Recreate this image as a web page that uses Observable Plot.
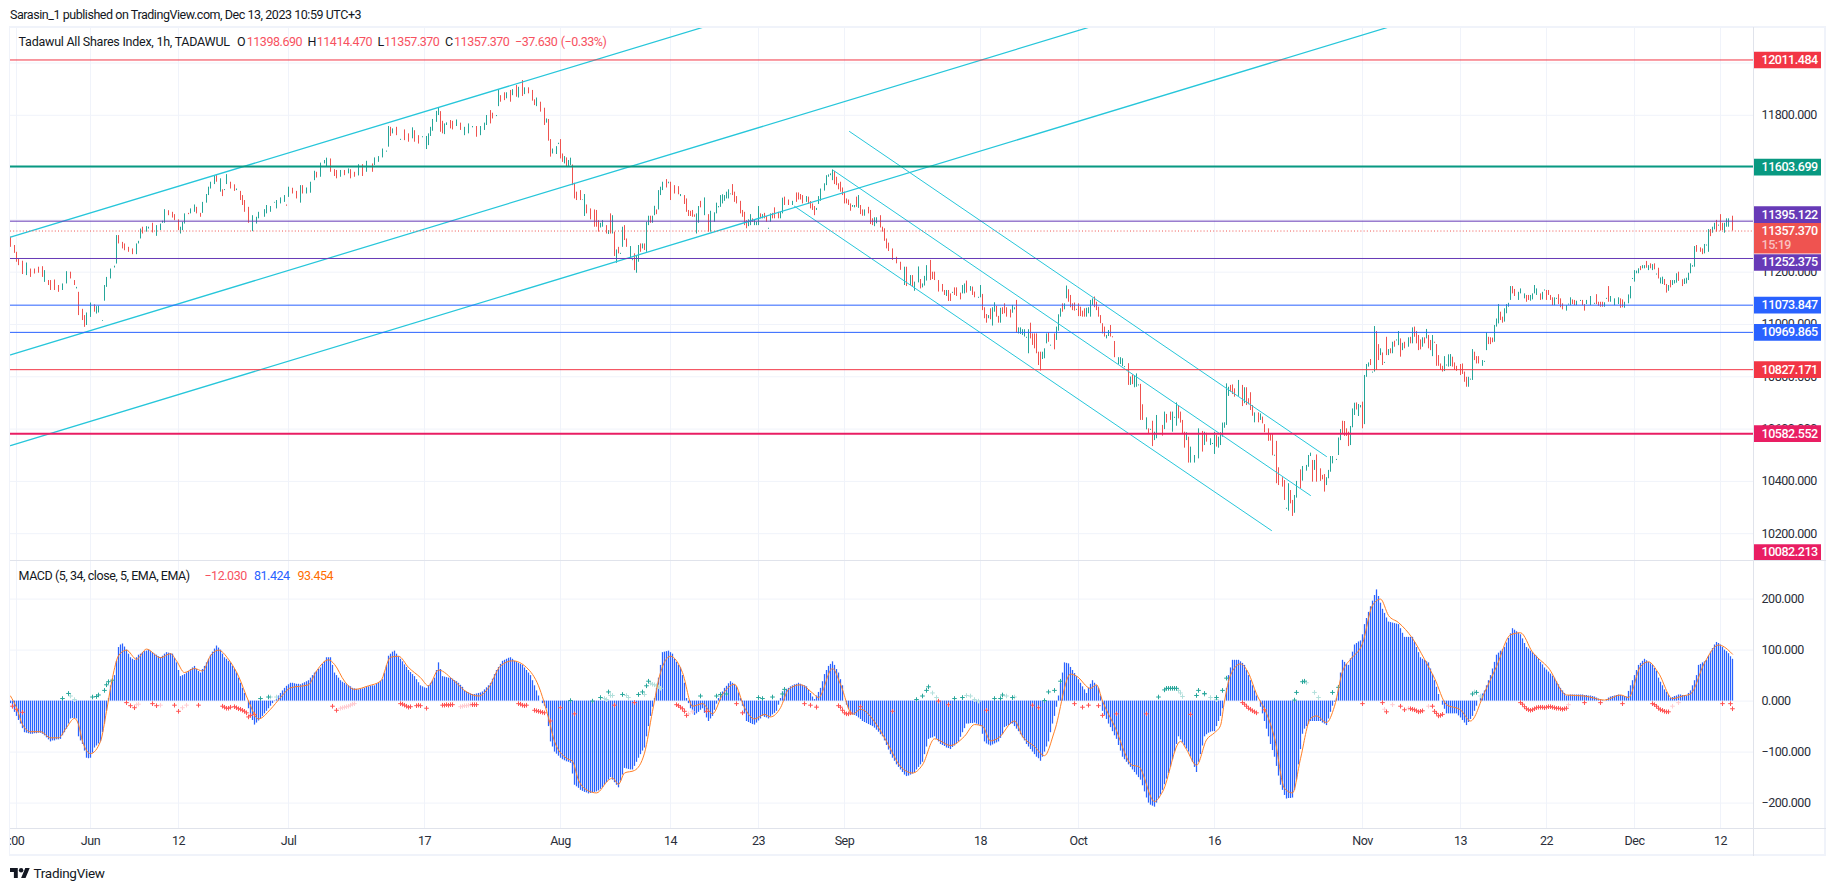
<!DOCTYPE html>
<html><head><meta charset="utf-8">
<script src="https://cdn.jsdelivr.net/npm/d3@7"></script>
<script src="https://cdn.jsdelivr.net/npm/@observablehq/plot@0.6"></script>
<style>
html,body{margin:0;padding:0;background:#fff;}
#page{position:relative;width:1835px;height:891px;overflow:hidden;font-family:Roboto,sans-serif;font-size:12.5px;letter-spacing:-0.45px;color:#131722;}
#page>div,#page>span,#page>svg{position:absolute;}
.t{white-space:nowrap;line-height:14px;}
</style></head><body>
<div id="page"></div>
<script>
// [bar, low, high, up]
const candlesA=[[0,11295,11334,0],[2,11272,11302,0],[3,11238,11276,0],[4,11225,11251,0],[6,11191,11242,0],[8,11187,11235,1],[10,11180,11212,0],[12,11193,11212,0],[14,11196,11219,0],[16,11180,11221,0],[17,11161,11206,1],[19,11149,11168,0],[20,11130,11168,0],[22,11130,11170,0],[24,11123,11149,0],[26,11130,11155,1],[28,11155,11202,1],[30,11174,11200,0],[32,11149,11168,0],[33,11136,11142,1],[34,11034,11123,0],[36,11015,11058,0],[37,10989,11034,0],[38,10996,11044,1],[40,11027,11082,1],[42,11047,11075,0],[43,11040,11068,1],[44,11044,11070,1],[46,11012,11015,1],[47,11089,11149,1],[48,11142,11180,1],[50,11174,11212,1],[52,11216,11223,1],[53,11231,11340,1],[54,11308,11340,0],[56,11289,11314,0],[57,11282,11308,0],[59,11276,11295,0],[61,11267,11289,0],[63,11267,11308,1],[64,11308,11318,1],[65,11327,11365,1],[66,11346,11372,0],[68,11353,11374,1],[69,11365,11372,1],[71,11350,11387,0],[73,11337,11378,1],[75,11359,11384,1],[76,11387,11395,1],[77,11387,11439,1],[79,11416,11435,0],[81,11407,11429,0],[82,11397,11420,0],[84,11359,11400,0],[85,11346,11372,1],[86,11359,11391,1],[87,11384,11423,1],[89,11420,11425,0],[90,11423,11442,1],[92,11429,11457,1],[93,11423,11448,0],[95,11410,11425,0],[96,11425,11467,1],[98,11464,11497,1],[99,11493,11525,1],[100,11518,11544,1],[102,11535,11567,1],[103,11544,11569,0],[105,11506,11557,1],[106,11489,11515,0],[107,11512,11516,1],[108,11535,11573,1],[110,11518,11544,0],[112,11509,11534,0],[113,11512,11518,1],[115,11474,11509,0],[116,11455,11493,0],[117,11429,11474,0],[119,11387,11448,0],[121,11355,11416,1],[123,11384,11410,1],[124,11404,11429,1],[127,11410,11439,1],[128,11423,11455,1],[130,11429,11451,1],[132,11464,11467,1],[133,11442,11474,1],[135,11461,11484,1],[137,11467,11493,1],[138,11452,11457,0],[139,11486,11525,1],[141,11499,11521,0],[143,11480,11509,0],[145,11464,11531,1],[146,11499,11531,0],[148,11499,11522,1],[150,11502,11544,1],[152,11550,11586,1],[153,11560,11582,0],[155,11563,11617,1],[157,11614,11627,1],[158,11601,11636,1],[160,11582,11633,0],[162,11566,11592,0],[163,11557,11589,0],[165,11563,11589,1],[167,11569,11589,0],[169,11576,11595,1],[170,11557,11592,0],[172,11563,11582,0],[174,11568,11611,1],[176,11566,11611,0],[178,11582,11624,1],[181,11582,11614,0],[182,11608,11637,1],[184,11620,11642,1],[186,11637,11671,1],[188,11659,11663,1],[189,11678,11757,1],[190,11719,11754,0],[191,11729,11748,1],[193,11722,11754,0],[195,11704,11708,1],[197,11703,11744,0],[199,11697,11729,0],[201,11710,11752,1],[202,11697,11741,0],[204,11690,11722,0],[206,11714,11718,1],[208,11669,11719,1],[209,11684,11729,1],[210,11719,11754,1],[211,11739,11784,1],[213,11773,11815,1],[214,11799,11828,1],[215,11735,11814,0],[216,11729,11777,0],[217,11726,11767,1]];
const candlesB=[[218,11761,11771,1],[220,11748,11780,0],[221,11744,11777,0],[223,11757,11782,1],[225,11742,11770,0],[227,11722,11754,1],[229,11729,11767,1],[231,11752,11757,1],[233,11716,11757,0],[235,11722,11757,1],[237,11742,11770,1],[238,11761,11799,1],[240,11767,11818,0],[241,11786,11808,0],[243,11795,11799,1],[244,11833,11897,1],[245,11850,11875,0],[247,11856,11886,0],[248,11863,11886,1],[250,11850,11895,0],[251,11875,11898,1],[253,11869,11914,0],[254,11866,11907,1],[256,11872,11933,0],[257,11879,11905,1],[259,11882,11905,0],[261,11854,11895,0],[262,11837,11859,0],[263,11833,11866,1],[265,11812,11850,0],[267,11761,11827,0],[268,11770,11786,1],[269,11701,11784,0],[270,11640,11707,0],[271,11652,11671,1],[273,11650,11680,1],[274,11688,11693,1],[275,11633,11707,0],[276,11620,11652,0],[277,11614,11642,1],[278,11601,11637,0],[279,11604,11627,1],[280,11608,11636,1],[281,11531,11610,0],[282,11480,11540,0],[283,11474,11506,0],[285,11474,11512,0],[286,11474,11476,1],[287,11413,11497,1],[288,11423,11457,0],[290,11400,11442,0],[292,11372,11438,0],[293,11372,11436,0],[294,11353,11397,0],[295,11369,11387,1],[296,11372,11397,1],[298,11346,11378,0],[299,11344,11359,1],[300,11346,11423,0],[301,11346,11416,1],[302,11260,11353,0],[303,11234,11285,1],[304,11270,11295,0],[305,11268,11272,1],[306,11295,11372,1],[307,11321,11378,0],[308,11295,11327,0],[310,11251,11298,1],[311,11244,11248,1],[312,11206,11270,0],[313,11196,11263,1],[314,11238,11302,1],[315,11276,11308,0],[316,11289,11308,1],[317,11283,11308,0],[318,11276,11391,1],[319,11378,11414,1],[320,11387,11414,0],[321,11387,11414,1],[322,11416,11452,1],[323,11420,11438,0],[324,11438,11512,1],[325,11493,11525,1],[326,11512,11544,1],[328,11522,11554,0],[329,11538,11544,1],[330,11474,11544,0],[332,11499,11531,0],[334,11496,11527,0],[335,11489,11497,1],[337,11459,11493,0],[338,11429,11480,0],[339,11413,11436,0],[340,11413,11433,0],[341,11410,11436,0],[342,11410,11419,0],[343,11346,11423,1],[344,11387,11451,1],[345,11446,11471,0],[347,11416,11484,1],[349,11353,11420,0],[350,11353,11433,1],[352,11391,11427,1],[353,11423,11464,1],[354,11446,11451,1],[355,11448,11493,1],[356,11461,11496,1],[357,11471,11493,1],[358,11480,11506,1],[359,11480,11515,1],[360,11496,11499,1],[361,11493,11535,0],[362,11467,11506,0],[363,11461,11489,0],[365,11423,11471,0],[366,11410,11436,0],[367,11378,11429,0],[368,11366,11397,0],[369,11374,11400,1],[370,11378,11420,1],[371,11391,11404,0],[372,11378,11400,1],[373,11378,11391,1],[374,11378,11451,1],[375,11404,11423,0],[376,11404,11420,1],[377,11404,11425,0],[378,11391,11413,0],[379,11364,11368,1],[380,11391,11423,1],[381,11404,11425,0],[382,11404,11446,0],[384,11404,11429,0],[385,11404,11429,1],[386,11423,11483,1],[387,11455,11487,0],[389,11455,11476,0],[391,11455,11471,1],[393,11467,11503,0],[394,11476,11503,0],[395,11476,11497,0],[396,11461,11493,0],[398,11467,11489,1],[399,11459,11487,0],[400,11442,11470,0],[401,11436,11461,0],[402,11416,11451,0],[403,11436,11444,1],[404,11459,11489,1],[405,11471,11518,1],[407,11510,11538,1],[408,11531,11569,1],[409,11563,11572,1],[410,11569,11576,1],[411,11550,11591,1],[412,11535,11585,0],[413,11531,11563,0],[414,11515,11538,0],[415,11506,11544,0],[416,11493,11522,0],[417,11461,11506,0],[418,11461,11480,0],[419,11455,11476,0],[420,11433,11461,0],[421,11448,11455,1],[422,11446,11455,1],[423,11448,11487,0],[424,11444,11493,1],[425,11420,11455,0],[426,11414,11438,0],[427,11414,11438,1],[429,11423,11448,0],[430,11382,11436,0],[431,11378,11404,0],[432,11374,11408,1],[433,11385,11408,1],[435,11369,11416,0],[436,11353,11372,0],[437,11318,11366,0],[438,11289,11327,0],[439,11279,11311,0]];
const candlesC=[[441,11245,11289,0],[443,11232,11257,0],[445,11207,11238,0],[447,11149,11219,1],[448,11145,11219,0],[450,11149,11187,1],[451,11143,11187,0],[452,11127,11162,1],[454,11159,11220,1],[455,11136,11172,0],[456,11140,11155,1],[457,11147,11184,1],[458,11166,11225,1],[460,11168,11245,0],[461,11172,11200,0],[462,11168,11200,0],[464,11124,11168,0],[466,11124,11153,0],[467,11111,11130,0],[468,11107,11130,1],[469,11088,11130,0],[470,11088,11117,0],[471,11119,11123,1],[472,11111,11140,0],[473,11107,11140,0],[475,11094,11120,0],[476,11117,11149,1],[477,11117,11155,1],[478,11120,11166,0],[480,11127,11145,1],[481,11111,11143,0],[482,11102,11124,0],[484,11100,11104,1],[485,11102,11149,1],[486,11053,11115,0],[487,11022,11064,0],[488,11005,11038,0],[489,11022,11034,1],[490,11018,11060,0],[491,10994,11064,1],[492,11047,11083,1],[493,11028,11069,0],[494,11005,11031,0],[495,11005,11062,1],[496,11038,11064,0],[497,11041,11079,0],[498,11028,11064,0],[500,11025,11056,0],[501,11043,11073,1],[502,11056,11064,1],[503,10967,11092,0],[504,10964,10987,1],[505,10962,10987,1],[506,10958,10980,1],[507,10952,10980,1],[508,10947,10951,1],[509,10888,10980,1],[510,10945,11005,0],[511,10920,10964,0],[512,10907,10964,0],[513,10888,10964,0],[514,10843,10894,0],[515,10822,10894,0],[516,10866,10894,1],[517,10869,10907,1],[518,10926,10964,1],[519,10932,10968,0],[520,10917,10921,1],[522,10903,10964,0],[523,10939,10990,1],[524,10974,11037,1],[525,11028,11060,1],[526,11047,11079,0],[527,11056,11079,1],[528,11098,11147,1],[529,11085,11133,0],[530,11064,11111,0],[531,11053,11079,0],[532,11051,11082,0],[533,11054,11058,1],[534,11030,11079,0],[535,11030,11066,0],[536,11028,11051,0],[537,11028,11060,0],[538,11028,11062,1],[539,11041,11064,1],[540,11028,11092,1],[541,11073,11098,1],[542,11064,11105,0],[543,11053,11085,0],[544,11028,11066,0],[545,11003,11034,0],[546,10964,11003,0],[547,10952,10990,0],[548,10945,10958,1],[549,10954,10977,1],[550,10952,10996,0],[551,10949,10953,0],[552,10873,10935,0],[554,10847,10873,1],[555,10847,10873,1],[556,10839,10869,1],[557,10835,10839,1],[559,10767,10850,0],[560,10767,10799,1],[561,10770,10807,0],[562,10758,10801,1],[563,10760,10811,1],[564,10765,10769,1],[565,10633,10771,0],[566,10633,10693,0],[568,10597,10643,1],[569,10582,10601,0],[570,10595,10599,1],[571,10533,10630,0],[572,10556,10588,1],[573,10563,10652,1],[576,10573,10614,0],[577,10598,10665,1],[578,10623,10656,0],[580,10633,10665,0],[581,10588,10665,1],[582,10641,10645,1],[583,10611,10700,1],[584,10639,10690,0],[585,10623,10665,0],[586,10582,10633,0],[587,10527,10588,0],[588,10556,10586,1],[589,10470,10569,0],[590,10470,10531,1],[592,10470,10499,1],[594,10486,10601,1],[596,10512,10591,0],[597,10537,10588,1],[598,10550,10584,0],[600,10537,10563,1],[601,10541,10545,1],[602,10503,10588,1],[603,10531,10575,0],[604,10527,10569,1],[605,10537,10586,1],[606,10569,10623,1],[607,10603,10624,1],[608,10614,10773,1],[609,10725,10760,1],[610,10741,10767,0],[611,10732,10769,0],[612,10722,10754,0],[614,10725,10786,1],[616,10686,10767,0],[617,10697,10758,1],[618,10690,10758,0],[619,10693,10716,0],[620,10671,10739,0],[621,10649,10690,0],[622,10624,10662,1],[624,10624,10662,0],[625,10633,10658,1],[626,10620,10646,0],[627,10586,10617,0],[629,10553,10601,0],[630,10554,10582,0],[631,10498,10582,0],[632,10496,10500,1],[633,10391,10553,0],[634,10384,10452,0],[636,10378,10414,0],[637,10327,10403,0],[638,10293,10297,1],[639,10286,10391,1],[640,10314,10365,0],[641,10266,10327,0],[642,10278,10346,1],[643,10336,10400,1],[645,10371,10444,0],[646,10401,10457,1],[648,10439,10461,1],[649,10454,10499,1],[650,10495,10508,1],[651,10397,10480,0],[652,10442,10480,1],[653,10397,10501,0],[655,10400,10448,0],[656,10406,10423,0],[657,10359,10426,0],[658,10384,10414,1],[659,10410,10442,1]];
const candlesD=[[660,10435,10495,1],[661,10467,10495,1],[663,10480,10484,1],[664,10499,10566,1],[665,10556,10598,1],[666,10582,10630,0],[667,10572,10629,0],[668,10572,10601,0],[669,10533,10588,0],[670,10537,10610,1],[671,10605,10677,1],[672,10652,10699,1],[673,10673,10700,0],[674,10648,10694,1],[675,10681,10690,1],[676,10601,10703,0],[677,10617,10805,1],[678,10798,10847,1],[679,10837,10853,1],[680,10843,10866,0],[681,10814,10818,1],[682,10818,10992,1],[683,10824,10973,0],[684,10862,10923,0],[685,10881,10907,1],[686,10843,10891,0],[687,10851,10855,1],[688,10881,10951,0],[689,10881,10904,1],[690,10888,10907,0],[691,10888,10932,1],[692,10913,10936,0],[693,10937,10941,1],[694,10919,10973,1],[695,10875,10945,0],[696,10900,10928,1],[697,10907,10932,0],[699,10913,10949,1],[700,10926,10951,0],[701,10926,10987,1],[702,10951,10990,0],[703,10926,10973,0],[704,10900,10958,0],[705,10903,10941,0],[706,10913,10949,1],[707,10926,10949,0],[708,10945,10981,1],[709,10907,10958,0],[710,10900,10939,0],[711,10877,10958,1],[712,10928,10932,0],[713,10840,10923,0],[714,10840,10881,0],[715,10824,10849,0],[716,10818,10840,0],[717,10820,10877,1],[718,10841,10845,1],[719,10837,10884,1],[720,10839,10885,1],[721,10837,10875,0],[722,10824,10853,0],[723,10821,10840,0],[725,10805,10847,0],[726,10809,10849,0],[727,10779,10818,0],[728,10760,10798,0],[729,10760,10798,1],[730,10787,10791,1],[731,10786,10904,1],[732,10862,10894,0],[733,10849,10877,0],[734,10849,10877,0],[736,10840,10862,1],[737,10855,10859,1],[738,10900,10968,1],[739,10923,10951,0],[740,10923,10949,0],[741,10930,10948,0],[742,10932,10996,1],[743,10990,11021,1],[744,11002,11076,1],[745,11015,11047,0],[746,11005,11028,0],[747,11009,11060,1],[748,11041,11076,1],[749,11066,11081,1],[750,11092,11145,1],[751,11117,11145,0],[752,11107,11134,0],[754,11092,11123,1],[755,11117,11136,1],[757,11098,11117,1],[758,11085,11111,0],[759,11092,11111,0],[760,11089,11111,1],[761,11094,11117,1],[762,11117,11149,1],[763,11111,11136,1],[765,11092,11117,0],[766,11094,11123,1],[767,11128,11132,1],[768,11092,11130,0],[769,11111,11130,0],[770,11092,11111,0],[771,11072,11102,0],[772,11072,11102,1],[773,11096,11100,1],[774,11076,11114,0],[775,11064,11098,0],[776,11056,11079,0],[778,11051,11072,1],[779,11074,11078,1],[780,11072,11102,1],[781,11076,11094,0],[782,11072,11092,0],[783,11072,11089,1],[785,11088,11092,1],[786,11072,11092,0],[787,11051,11076,0],[788,11076,11092,1],[790,11072,11107,1],[792,11077,11081,1],[793,11076,11114,0],[794,11069,11085,0],[795,11066,11085,0],[796,11066,11085,0],[797,11066,11083,1],[798,11096,11100,1],[799,11085,11145,0],[800,11085,11107,1],[802,11072,11098,1],[804,11076,11102,1],[805,11062,11098,0],[806,11064,11094,0],[807,11062,11085,1],[809,11079,11113,1],[810,11098,11145,1],[811,11172,11176,1],[812,11162,11206,1],[813,11194,11204,1],[814,11194,11213,1],[815,11206,11222,0],[816,11213,11225,1],[817,11213,11225,1],[818,11215,11241,0],[819,11206,11225,1],[820,11213,11232,0],[821,11206,11229,1],[822,11209,11232,0],[823,11189,11193,1],[824,11174,11215,0],[825,11155,11178,1],[826,11153,11181,1],[827,11149,11172,0],[828,11120,11153,0],[829,11127,11149,1],[830,11140,11168,0],[831,11149,11168,1],[832,11155,11168,1],[833,11158,11194,1],[834,11165,11200,0],[836,11145,11171,0],[837,11153,11174,1],[838,11155,11177,1],[839,11168,11196,1],[840,11194,11232,1],[841,11219,11225,1],[842,11219,11298,1],[843,11276,11302,0],[845,11276,11293,0],[846,11267,11289,0],[847,11270,11306,1],[848,11300,11304,1],[849,11276,11363,1],[850,11336,11363,0],[851,11349,11372,1],[852,11362,11387,1],[853,11353,11398,0],[854,11376,11380,1],[855,11357,11420,0],[856,11359,11387,0],[857,11349,11387,1],[858,11372,11404,1],[859,11372,11404,1],[861,11357,11414,0]];

// MACD histogram, one value per bar
const macdHist=[-5,-15,-22,-30,-38,-45,-54,-62,-63,-64,
-65,-65,-64,-64,-63,-63,-65,-68,-72,-76,
-80,-78,-78,-76,-76,-75,-68,-62,-55,-45,
-35,-34,-35,-35,-70,-78,-85,-98,-112,-113,
-112,-102,-92,-88,-84,-80,-62,-45,-20,5,
30,40,50,78,105,110,112,106,100,92,
85,82,80,85,90,92,95,97,98,100,
97,95,92,90,87,85,88,92,95,94,
93,92,84,75,60,48,50,52,55,58,
62,65,68,62,58,55,62,68,75,82,
90,96,102,108,104,100,92,85,82,78,
75,68,62,55,45,35,25,15,0,-15,
-30,-38,-47,-43,-39,-35,-30,-25,-20,-15,
-10,-5,-1,3,10,15,20,25,29,32,
35,35,34,33,33,32,34,36,38,40,
45,50,55,58,62,65,72,78,85,85,
85,70,55,50,45,40,37,35,32,30,
28,25,24,23,22,23,24,25,27,28,
29,30,30,33,36,39,42,55,70,88,
92,96,98,92,87,82,77,71,66,60,
56,52,48,42,36,30,28,26,25,30,
35,40,45,60,75,62,48,47,46,45,
45,43,40,38,35,31,27,20,18,16,
14,13,13,14,15,16,18,22,26,30,
35,43,52,60,66,72,78,80,82,84,
85,82,78,76,74,72,70,65,60,55,
50,40,30,20,10,0,-5,-10,-15,-50,
-80,-90,-100,-104,-108,-112,-115,-117,-119,-120,
-122,-143,-165,-168,-171,-175,-177,-179,-180,-182,
-181,-180,-179,-178,-176,-173,-170,-165,-160,-155,
-150,-155,-160,-165,-170,-157,-145,-132,-133,-134,
-135,-135,-128,-120,-112,-105,-98,-92,-70,-50,
-30,-12,5,25,45,70,95,96,97,98,
95,92,82,76,70,65,50,35,5,-5,
-15,-22,-28,-25,-22,-18,-15,-24,-33,-40,
-35,-30,-18,-6,5,12,18,25,29,34,
38,35,32,28,16,5,-10,-25,-40,-42,
-44,-46,-47,-43,-39,-35,-30,-32,-33,-35,
-31,-27,-24,-20,-8,5,18,20,23,25,
28,30,32,33,35,33,31,30,28,22,
15,8,3,10,17,25,38,52,60,68,
72,77,70,62,55,42,30,0,-8,-16,
-25,-27,-28,-30,-33,-36,-40,-42,-44,-46,
-48,-50,-53,-57,-61,-66,-70,-78,-87,-96,
-105,-112,-118,-125,-130,-135,-140,-145,-148,-147,
-145,-143,-140,-135,-130,-125,-120,-105,-90,-75,
-73,-72,-70,-75,-80,-85,-87,-89,-92,-93,
-95,-91,-88,-84,-80,-71,-62,-54,-45,-45,
-44,-44,-43,-45,-47,-50,-65,-80,-84,-86,
-88,-86,-84,-82,-80,-73,-66,-52,-50,-48,
-46,-45,-50,-55,-60,-66,-72,-78,-85,-90,
-95,-100,-105,-110,-113,-118,-110,-100,-90,-80,
-62,-45,-30,-12,10,35,55,75,74,73,
66,60,54,48,42,35,28,22,15,25,
33,40,35,30,25,10,-20,-28,-36,-45,
-52,-60,-68,-75,-87,-98,-110,-115,-120,-125,
-130,-135,-140,-145,-150,-155,-166,-178,-190,-200,
-204,-206,-208,-200,-192,-184,-175,-164,-153,-142,
-130,-115,-100,-85,-70,-76,-82,-88,-94,-100,
-110,-120,-130,-140,-120,-105,-88,-70,-66,-63,
-61,-60,-60,-50,-40,-30,-15,0,25,50,
65,80,80,80,80,77,74,70,60,50,
40,30,20,10,0,-12,-25,-40,-55,-70,
-85,-97,-110,-128,-147,-165,-175,-185,-192,-191,
-191,-190,-175,-155,-125,-95,-65,-55,-50,-45,
-40,-40,-40,-40,-40,-40,-43,-45,-48,-35,
-22,-10,-2,5,30,55,80,76,72,70,
83,96,110,113,116,118,130,150,162,174,
185,196,207,218,205,192,180,172,163,155,
154,153,152,151,150,142,133,125,125,125,
125,125,115,105,95,85,82,80,77,75,
63,52,40,27,13,0,-8,-16,-25,-25,
-25,-25,-25,-25,-29,-33,-38,-43,-48,-42,
-36,-30,-20,-10,0,7,14,20,30,40,
50,63,76,90,94,98,101,105,114,123,
132,142,139,136,133,130,122,113,105,102,
98,95,91,88,82,76,71,65,61,57,
53,49,45,38,32,25,20,15,10,11,
12,12,12,12,12,12,12,11,11,10,
10,9,8,6,4,3,1,0,3,6,
8,9,10,11,12,11,10,9,8,19,
30,40,50,60,70,74,78,82,79,76,
73,70,64,58,45,37,30,22,17,11,
5,7,9,10,12,12,11,11,10,15,
20,30,40,50,70,72,75,77,80,88,
96,103,110,115,113,110,105,100,97,93,
87,82];

// signal line [bar, value]
const macdSignal=[[0,10],[3,-13],[6,-46],[10,-60],[15,-60],[20,-72],[24,-72],[28,-52],[32,-34],[34,-46],[36,-79],[40,-103],[45,-79],[48,-20],[51,46],[54,89],[58,100],[63,82],[68,102],[75,85],[80,93],[83,79],[87,56],[92,64],[96,59],[100,89],[104,100],[109,82],[114,49],[119,0],[124,-35],[130,-16],[135,7],[140,26],[149,32],[153,59],[159,81],[162,72],[167,39],[172,23],[179,30],[185,39],[190,86],[194,88],[199,66],[205,46],[209,30],[214,61],[222,39],[228,18],[234,10],[239,26],[245,69],[251,79],[258,66],[264,30],[269,-33],[272,-79],[278,-112],[281,-118],[284,-155],[289,-176],[293,-180],[299,-155],[301,-151],[304,-163],[307,-141],[312,-136],[317,-102],[321,-20],[325,56],[330,88],[336,56],[341,-10],[346,-5],[351,-25],[356,13],[362,33],[367,-13],[372,-35],[377,-26],[380,-31],[385,-13],[389,23],[395,32],[401,16],[404,7],[411,64],[415,33],[421,-26],[425,-16],[433,-46],[438,-79],[445,-128],[451,-141],[456,-125],[462,-74],[470,-87],[477,-69],[482,-46],[486,-49],[490,-78],[494,-72],[502,-39],[506,-69],[512,-89],[517,-107],[522,-59],[530,53],[533,49],[540,25],[543,32],[546,0],[552,-49],[561,-126],[564,-128],[572,-197],[576,-178],[585,-79],[588,-95],[593,-126],[598,-76],[602,-62],[605,-48],[607,0],[610,51],[615,73],[619,55],[623,14],[628,-24],[632,-72],[637,-171],[641,-180],[645,-113],[650,-34],[653,-29],[658,-42],[662,-10],[666,58],[670,82],[676,113],[681,188],[685,200],[689,168],[694,154],[701,123],[707,82],[712,45],[718,-7],[725,-17],[730,-39],[737,17],[743,68],[750,130],[755,134],[761,96],[769,65],[778,12],[787,10],[797,2],[805,12],[809,7],[815,68],[819,77],[824,55],[831,5],[836,10],[840,14],[847,75],[854,110],[860,96],[861,92]];

// small + marks round zero [bar, value]
const plusGreen=[[26,5],[29,15],[41,8],[43,9],[44,12],[47,21],[48,32],[49,38],[51,41],[125,5],[129,8],[280,1],[291,0],[295,7],[299,18],[306,13],[314,13],[316,18],[318,30],[319,39],[345,10],[353,10],[355,13],[358,14],[374,7],[376,5],[381,8],[386,14],[387,23],[453,3],[456,10],[458,21],[459,28],[472,5],[476,7],[492,5],[495,5],[496,12],[501,7],[517,1],[519,18],[522,21],[525,39],[574,8],[577,22],[578,25],[579,25],[580,25],[581,25],[582,25],[583,25],[593,11],[594,21],[597,15],[603,7],[606,21],[608,45],[642,2],[643,17],[646,38],[647,39],[661,17],[664,27],[731,14],[733,17]];
const plusPaleGreen=[[30,10],[32,3],[130,8],[133,8],[297,5],[300,11],[298,3],[301,11],[308,11],[309,7],[317,13],[320,35],[321,33],[322,32],[323,30],[324,28],[325,25],[461,16],[463,7],[478,11],[480,10],[482,3],[484,0],[498,10],[502,8],[584,21],[585,16],[586,9],[597,13],[600,7],[603,3],[648,36],[652,17],[654,7],[732,18],[735,10]];
const plusRed=[[1,-10],[3,-16],[6,-22],[58,-3],[60,-9],[62,-13],[71,-5],[73,-9],[82,-8],[84,-20],[94,-8],[106,-10],[107,-12],[108,-14],[109,-14],[110,-12],[112,-11],[113,-13],[114,-15],[115,-16],[116,-18],[117,-20],[118,-23],[119,-31],[120,-28],[122,-26],[161,-10],[163,-18],[195,-5],[196,-6],[197,-8],[198,-10],[199,-12],[200,-11],[203,-9],[204,-8],[205,-9],[208,-14],[216,-8],[217,-8],[218,-7],[219,-8],[220,-7],[221,-7],[231,-7],[232,-7],[233,-7],[254,-5],[255,-6],[256,-8],[257,-9],[258,-8],[262,-18],[263,-19],[264,-20],[265,-21],[266,-22],[267,-23],[270,-39],[275,-13],[282,-25],[302,-8],[312,-3],[333,-7],[334,-9],[335,-12],[336,-15],[337,-20],[338,-28],[348,-20],[363,-5],[366,-23],[397,-5],[400,-8],[403,-12],[414,-9],[415,-12],[416,-18],[417,-23],[418,-25],[419,-25],[420,-23],[425,-11],[441,-20],[464,0],[469,-7],[488,-18],[511,-8],[514,-13],[532,-5],[536,-12],[539,-8],[544,-9],[546,-28],[553,-25],[568,-25],[590,-26],[616,-3],[617,-6],[618,-10],[619,-14],[620,-16],[621,-19],[622,-21],[623,-23],[627,-17],[676,-5],[686,-3],[688,-21],[695,-10],[697,-17],[700,-15],[701,-16],[702,-17],[703,-19],[704,-21],[705,-20],[706,-19],[711,-10],[712,-20],[713,-24],[714,-29],[715,-28],[716,-26],[755,-3],[756,-6],[757,-11],[758,-15],[759,-17],[760,-18],[761,-17],[762,-15],[763,-13],[764,-12],[765,-12],[766,-12],[767,-13],[768,-12],[769,-11],[770,-11],[771,-12],[772,-13],[773,-14],[774,-14],[775,-15],[776,-16],[777,-15],[778,-14],[787,-3],[795,-3],[806,-5],[821,-5],[822,-7],[823,-10],[824,-14],[825,-17],[826,-18],[827,-20],[828,-21],[829,-21],[856,-5],[860,-5],[861,-15]];
const plusPaleRed=[[63,-7],[64,-6],[75,-8],[86,-13],[88,-8],[165,-14],[166,-13],[167,-12],[168,-11],[169,-10],[170,-8],[171,-6],[172,-5],[225,-11],[226,-10],[227,-9],[228,-9],[229,-8],[230,-7],[339,-25],[341,-21],[403,-10],[687,-16],[691,-7],[699,-14],[709,-10],[779,-7],[831,-10],[834,-3]];

// channel drawings: [bar, price, bar, price]
const upChannels=[[0,11334,346,12136],[0,10884,539,12136],[0,10537,688.5,12136]];
const downChannels=[[419.5,11738,658,10495],[411.5,11589,650,10346],[392,11452,630.5,10212]];

// horizontal levels
const levelPrices=[12011.484,11603.699,11395.122,11252.375,11073.847,10969.865,10827.171,10582.552,10082.213];
const levelColors=["#f23645","#089981","#673ab7","#673ab7","#2962ff","#2962ff","#f23645","#e91e63","#e91e63"];
const levelWidths=[1,2,1,1,1,1,1,2,1];
const levelBadgeDy=[0,0.5,-6.6,4,0,0,0,0,-12];
const lastPrice=11357.37;
const priceTicks=[10200,10400,10600,10800,11000,11200,11800];
const priceGrid=[10200,10400,10600,10800,11000,11200,11400,11600,11800,12000];
const macdTicks=[-200,-100,0,100,200];
const tickBars=[3,40,84,139,207,275,330,374,417,485,534,602,676,725,768,812,855];
const tickLabels=[":00","Jun","12","Jul","17","Aug","14","23","Sep","18","Oct","16","Nov","13","22","Dec","12"];

const UP="#26a69a",DOWN="#ef5350",GRID="#f0f3fa",CYAN="#26c6da",FONT="Roboto, sans-serif";
const candles=[candlesA,candlesB,candlesC,candlesD].flat().map(([bar,low,high,up])=>({bar,low,high,up}));
const levels=levelPrices.map((p,i)=>({p,c:levelColors[i],w:levelWidths[i],dy:levelBadgeDy[i]}));
const lineRows=rows=>rows.flatMap(([a,b,c,d],i)=>[{id:i,x:a,y:b},{id:i,x:c,y:d}]);
const BAR_END=871.5, BADGE_END=905.5, TEXT_X=875.5;
const baseStyle={fontFamily:FONT,fontSize:"12.5px",letterSpacing:"-0.45px",color:"#131722",background:"transparent",overflow:"visible"};
const fmt=d3.format(".3f");

const price=Plot.plot({width:1835,height:561,marginLeft:10,marginRight:82,marginTop:27,marginBottom:0,
  style:baseStyle,
  x:{domain:[0,BAR_END],axis:null},
  y:{domain:[10093.6,12135.7],axis:null},
  marks:[
    Plot.ruleY(priceGrid,{stroke:GRID,strokeWidth:1}),
    Plot.ruleX(tickBars,{stroke:GRID,strokeWidth:1}),
    Plot.axisY(priceTicks,{anchor:"right",tickSize:0,tickPadding:8,tickFormat:fmt,label:null,fill:"#2a2e39"}),
    Plot.ruleX(candles,{x:"bar",y1:"low",y2:"high",stroke:d=>d.up?UP:DOWN,strokeWidth:1}),
    Plot.line(lineRows(upChannels),{x:"x",y:"y",z:"id",stroke:CYAN,strokeWidth:1.25,clip:"frame"}),
    Plot.line(lineRows(downChannels),{x:"x",y:"y",z:"id",stroke:CYAN,strokeWidth:1,clip:"frame"}),
    Plot.ruleY(levels.slice(0,8),{y:"p",x1:0,x2:BAR_END,stroke:"c",strokeWidth:"w"}),
    Plot.ruleY([lastPrice],{x1:0,x2:BAR_END,stroke:DOWN,strokeWidth:1,strokeDasharray:"1,2.2"}),
    // last-price badge sits under its neighbours
    Plot.ruleY([lastPrice],{x1:BAR_END,x2:BADGE_END,stroke:DOWN,strokeWidth:31,dy:7}),
    Plot.text([lastPrice],{y:d=>d,x:TEXT_X,text:d=>fmt(d),textAnchor:"start",fill:"#fff",fontWeight:500}),
    Plot.text(["15:19"],{y:lastPrice,x:TEXT_X,dy:14,text:d=>d,textAnchor:"start",fill:"#fff",fillOpacity:0.65,fontWeight:500}),
    ...levels.flatMap(l=>[
      Plot.ruleY([l],{y:"p",x1:BAR_END,x2:BADGE_END,stroke:l.c,strokeWidth:16.7,dy:l.dy}),
      Plot.text([l],{y:"p",x:TEXT_X,dy:l.dy,text:d=>fmt(d.p),textAnchor:"start",fill:"#fff",fontWeight:500})
    ])
  ]});

const histRows=macdHist.map((v,bar)=>({bar,v}));
const plusRows=(rows,c)=>Plot.dot(rows,{x:d=>d[0],y:d=>d[1],symbol:"plus",r:1.6,stroke:c,strokeWidth:1});
const macd=Plot.plot({width:1835,height:296,marginLeft:10,marginRight:82,marginTop:0,marginBottom:28,
  style:baseStyle,
  x:{domain:[0,BAR_END],axis:null},
  y:{domain:[-249.8,275.7],axis:null},
  marks:[
    Plot.ruleY([-200,-100,0,100,200],{stroke:GRID,strokeWidth:1}),
    Plot.ruleX(tickBars,{stroke:GRID,strokeWidth:1}),
    Plot.axisY(macdTicks,{anchor:"right",tickSize:0,tickPadding:8,tickFormat:fmt,label:null,fill:"#2a2e39"}),
    Plot.axisX(tickBars,{anchor:"bottom",tickSize:0,tickPadding:8,tickFormat:b=>tickLabels[tickBars.indexOf(b)],label:null,fill:"#2a2e39"}),
    Plot.ruleX(histRows,{x:"bar",y1:0,y2:"v",stroke:"#2962ff",strokeWidth:1.25}),
    plusRows(plusPaleGreen,"#b2dfdb"),plusRows(plusPaleRed,"#ffcdd2"),plusRows(plusGreen,UP),plusRows(plusRed,"#ff5252"),
    Plot.line(macdSignal,{x:d=>d[0],y:d=>d[1],stroke:"#ff7f27",strokeWidth:1,curve:"monotone-x"})
  ]});

const page=document.getElementById("page");
function box(l,t,w,h,css){const d=document.createElement("div");d.style.cssText=`left:${l}px;top:${t}px;width:${w}px;height:${h}px;${css}`;page.appendChild(d);}
function txt(l,cy,s,color,extra){const d=document.createElement("div");d.className="t";d.textContent=s;d.style.cssText=`left:${l}px;top:${cy-7}px;color:${color};${extra||""}`;page.appendChild(d);}

macd.style.cssText+=";position:absolute;left:0;top:560px;";
price.style.cssText+=";position:absolute;left:0;top:0;";
page.appendChild(macd);page.appendChild(price);

// pane furniture
box(9,26,1817,830,"box-sizing:border-box;border:2px solid #f0f3fa;border-left-width:1.5px;");
box(10,560,1816,1,"background:#e0e3eb;");
box(10,828,1816,1,"background:#e0e3eb;");
box(1753,27,1,829,"background:#e0e3eb;");

txt(10,15,"Sarasin_1 published on TradingView.com, Dec 13, 2023 10:59 UTC+3","#131722");
txt(18.6,42,"Tadawul All Shares Index, 1h, TADAWUL","#131722","letter-spacing:-0.25px;");
const legendRed="#f7525f";
[[237,"O","#131722"],[246.7,"11398.690",legendRed],[307.6,"H","#131722"],[316.7,"11414.470",legendRed],[377.6,"L","#131722"],[384,"11357.370",legendRed],[445,"C","#131722"],[454,"11357.370",legendRed],[515,"\u221237.630",legendRed],[560.7,"(\u22120.33%)",legendRed]].forEach(r=>txt(r[0],42,r[1],r[2]));
txt(18.6,575.7,"MACD (5, 34, close, 5, EMA, EMA)","#131722");
txt(204.4,575.7,"\u221212.030",legendRed);
txt(253.9,575.7,"81.424","#2962ff");
txt(297.4,575.7,"93.454","#ff6d00");

// brand
const logo=document.createElementNS("http://www.w3.org/2000/svg","svg");
logo.setAttribute("viewBox","0 4 36 18");logo.setAttribute("width","20");logo.setAttribute("height","10");
logo.style.cssText="left:10px;top:868px;";
logo.innerHTML='<path fill="#131722" d="M14 22H7V11H0V4h14v18ZM28 22h-8l7.5-18h8L28 22Z"/><circle fill="#131722" cx="20" cy="8" r="4"/>';
page.appendChild(logo);
txt(33.6,873,"TradingView","#131722","font-size:13.5px;letter-spacing:-0.3px;");
</script>
</body></html>
